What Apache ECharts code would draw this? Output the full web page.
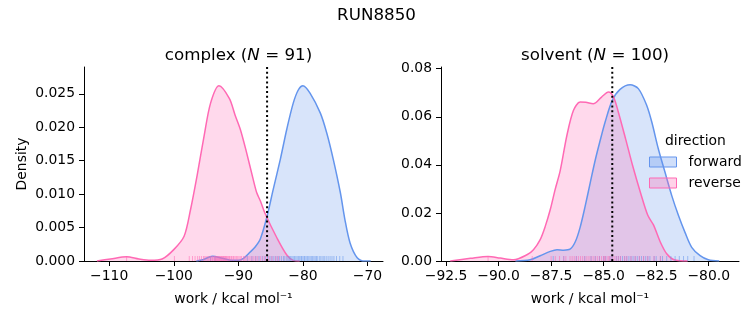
<!DOCTYPE html>
<html>
<head>
<meta charset="utf-8">
<script src="https://cdn.jsdelivr.net/npm/echarts@6/dist/echarts.min.js"></script>
<style>
  html, body { margin: 0; padding: 0; background: #fff; }
  #chart { width: 753px; height: 325px; }
</style>
</head>
<body>
<div id="chart"></div>
<script>
// ---- work distributions (kcal/mol) and their density estimates ----
const complexForwardX = [-96.5, -95.5, -94.0, -92.5, -91.0, -90.0, -89.2, -88.2, -87.4, -86.6, -85.6, -84.6, -83.5, -82.5, -81.5, -80.7, -80.0, -78.9, -77.3, -76.3, -75.3, -74.2, -73.5, -72.7, -71.6, -70.4, -69.5];
const complexForwardY = [0.0, 0.0002, 0.0007, 0.0004, 0.0001, 0.0001, 0.0004, 0.0013, 0.0021, 0.0033, 0.0065, 0.0107, 0.0152, 0.0197, 0.0236, 0.0256, 0.0262, 0.0251, 0.0221, 0.0191, 0.0152, 0.0102, 0.0062, 0.0027, 0.0005, 0.0, 0.0];

const complexReverseX = [-111.9, -109.8, -107.3, -105.4, -103.6, -101.8, -100.0, -98.4, -97.4, -96.4, -95.3, -94.3, -93.0, -91.4, -90.5, -89.7, -88.8, -87.7, -87.15, -86.6, -85.86, -84.0, -82.5, -81.5, -80.5];
const complexReverseY = [0.0, 0.0003, 0.00064, 0.0003, 0.0001, 0.0003, 0.0017, 0.0037, 0.0077, 0.0127, 0.0187, 0.0236, 0.0262, 0.0243, 0.0218, 0.0197, 0.0165, 0.0122, 0.0102, 0.0090, 0.0071, 0.0034, 0.0009, 0.0001, 0.0];

const solventForwardX = [-89.2, -88.5, -88.02, -87.54, -87.22, -86.9, -86.6, -86.35, -86.12, -85.88, -85.64, -85.4, -85.17, -84.93, -84.59, -84.22, -83.74, -83.35, -82.95, -82.71, -82.4, -82.08, -81.76, -81.44, -81.13, -80.81, -80.41, -80.02, -79.5];
const solventForwardY = [0.0, 0.0005, 0.0022, 0.0040, 0.0047, 0.0045, 0.0049, 0.0080, 0.0140, 0.0228, 0.0325, 0.0420, 0.0500, 0.0578, 0.0668, 0.0714, 0.0733, 0.0717, 0.0647, 0.0578, 0.0467, 0.0369, 0.0272, 0.0189, 0.0119, 0.0057, 0.0022, 0.0005, 0.0];

const solventReverseX = [-92.3, -91.34, -90.5, -89.92, -89.29, -88.65, -88.34, -88.02, -87.78, -87.54, -87.31, -87.07, -86.75, -86.44, -86.12, -85.85, -85.5, -85.1, -84.77, -84.53, -84.3, -83.95, -83.62, -83.25, -82.9, -82.63, -82.3, -82.0, -81.65, -81.0];
const solventReverseY = [0.0, 0.0011, 0.0019, 0.0012, 0.0005, 0.0026, 0.0047, 0.0089, 0.0144, 0.0214, 0.0297, 0.0375, 0.0522, 0.0626, 0.0661, 0.0660, 0.0654, 0.0682, 0.0703, 0.0682, 0.0619, 0.0506, 0.0396, 0.0285, 0.0190, 0.0150, 0.0078, 0.0030, 0.0005, 0.0];

// individual work values shown as rug ticks
const complexForwardRug = [-94.3, -93.6, -88.6, -87.9, -87.3, -86.8, -86.3, -85.9, -85.5, -85.1, -84.8, -84.5, -84.2, -83.9, -83.6, -83.3, -83.0, -82.8, -82.5, -82.3, -82.1, -81.9, -81.7, -81.5, -81.3, -81.1, -80.9, -80.7, -80.5, -80.3, -80.2, -80.0, -79.8, -79.7, -79.5, -79.3, -79.1, -78.9, -78.7, -78.5, -78.3, -78.1, -77.9, -77.7, -77.4, -77.2, -76.9, -76.7, -76.4, -76.1, -75.8, -75.5, -75.2, -74.8, -74.3, -73.8];
const complexReverseRug = [-107.3, -99.9, -97.6, -97.1, -96.7, -96.3, -96.0, -95.7, -95.4, -95.2, -95.0, -94.8, -94.6, -94.4, -94.3, -94.1, -94.0, -93.8, -93.7, -93.6, -93.5, -93.4, -93.3, -93.2, -93.1, -93.0, -92.9, -92.8, -92.7, -92.6, -92.5, -92.4, -92.3, -92.2, -92.1, -92.0, -91.9, -91.8, -91.7, -91.5, -91.4, -91.3, -91.1, -91.0, -90.8, -90.7, -90.5, -90.3, -90.1, -89.9, -89.7, -89.5, -89.2, -89.0, -88.8, -88.5, -88.2, -87.9, -87.6, -87.3, -87.0, -86.6, -86.2, -85.8, -85.3, -84.8, -84.2, -83.8];
const solventForwardRug = [-87.4, -86.9, -86.3, -85.9, -85.6, -85.4, -85.2, -85.0, -84.9, -84.7, -84.6, -84.4, -84.3, -84.2, -84.1, -84.0, -83.9, -83.8, -83.7, -83.6, -83.5, -83.4, -83.3, -83.2, -83.1, -83.0, -82.9, -82.8, -82.6, -82.5, -82.3, -82.2, -82.0, -81.8, -81.6, -81.4, -81.2, -81.0, -80.7];
const solventReverseRug = [-90.5, -88.4, -87.5, -87.3, -87.1, -86.9, -86.8, -86.6, -86.5, -86.4, -86.3, -86.2, -86.1, -86.0, -85.9, -85.8, -85.7, -85.6, -85.5, -85.4, -85.3, -85.2, -85.1, -85.0, -84.95, -84.9, -84.8, -84.75, -84.7, -84.6, -84.5, -84.4, -84.3, -84.2, -84.0, -83.9, -83.7, -83.5, -83.3, -83.1, -82.9, -82.6, -82.3];

// reference work marked with a dotted line in each panel
const complexMarker = -85.55;
const solventMarker = -84.59;

// axis ranges and tick positions
const complexXTicks = [-110, -100, -90, -80, -70];
const solventXTicks = [-92.5, -90.0, -87.5, -85.0, -82.5, -80.0];
const complexYTicks = [0, 0.005, 0.010, 0.015, 0.020, 0.025];
const solventYTicks = [0, 0.02, 0.04, 0.06, 0.08];
const complexXRange = [-113.9, -67.6];
const solventXRange = [-92.74, -78.56];
const complexYMax = 0.029;
const solventYMax = 0.0807;

const FONT = 'DejaVu Sans';
const BLUE = '#6495ED';
const PINK = '#FF69B4';
const MINUS = '\u2212';

const zip = (xs, ys) => xs.map((x, i) => [x, ys[i]]);
const signed = (s) => s.replace('-', MINUS);

function kdeSeries(name, xs, ys, color, idx) {
  return {
    name: name, type: 'line', xAxisIndex: idx, yAxisIndex: idx,
    data: zip(xs, ys), smooth: 0.3, symbol: 'none',
    lineStyle: { color: color, width: 1.5 },
    itemStyle: { color: color },
    areaStyle: { color: color, opacity: 0.25 },
    z: 2, silent: true
  };
}
function rugSeries(name, values, color, idx) {
  return {
    name: name, type: 'scatter', xAxisIndex: idx, yAxisIndex: idx,
    data: values.map(v => [v, 0]),
    symbol: 'rect', symbolSize: [1, 5], symbolOffset: [0, -2.5],
    itemStyle: { color: color, opacity: 0.55 },
    z: 4, silent: true
  };
}
function markerSeries(x, ymax, idx) {
  return {
    name: 'marker' + idx, type: 'line', xAxisIndex: idx, yAxisIndex: idx,
    data: [[x, 0], [x, ymax]], symbol: 'none',
    lineStyle: { color: '#000', width: 2, type: [2, 2.8] },
    z: 5, silent: true
  };
}
function xAxis(idx, range, ticks, fmt) {
  return {
    type: 'value', gridIndex: idx, min: range[0], max: range[1],
    name: 'work / kcal mol\u207B\u00B9', nameLocation: 'middle', nameGap: 31,
    nameTextStyle: { fontFamily: FONT, fontSize: 13.9, color: '#000' },
    axisLine: { show: true, lineStyle: { color: '#000', width: 1 } },
    axisTick: { show: true, length: 5, lineStyle: { color: '#000', width: 1 }, customValues: ticks },
    axisLabel: { customValues: ticks, formatter: fmt, fontFamily: FONT, fontSize: 13.9, color: '#000', margin: 8 },
    splitLine: { show: false }
  };
}
function yAxis(idx, max, ticks, digits, name) {
  return {
    type: 'value', gridIndex: idx, min: 0, max: max,
    name: name, nameLocation: 'middle', nameGap: 55,
    nameTextStyle: { fontFamily: FONT, fontSize: 13.9, color: '#000' },
    axisLine: { show: true, lineStyle: { color: '#000', width: 1 } },
    axisTick: { show: true, length: 5, lineStyle: { color: '#000', width: 1 }, customValues: ticks },
    axisLabel: { customValues: ticks, formatter: v => v.toFixed(digits), fontFamily: FONT, fontSize: 13.9, color: '#000', margin: 9 },
    splitLine: { show: false }
  };
}

const chart = echarts.init(document.getElementById('chart'), null, { renderer: 'canvas' });
chart.setOption({
  animation: false,
  backgroundColor: '#fff',
  title: [
    { text: 'RUN8850', left: 'center', top: 2,
      textStyle: { fontFamily: FONT, fontSize: 16.7, fontWeight: 'normal', color: '#000' } },
    { text: 'complex ({i|N} = 91)', left: 233.5, textAlign: 'center', top: 42,
      textStyle: { fontFamily: FONT, fontSize: 16.7, fontWeight: 'normal', color: '#000',
        rich: { i: { fontFamily: FONT, fontSize: 16.7, fontStyle: 'italic', color: '#000' } } } },
    { text: 'solvent ({i|N} = 100)', left: 590, textAlign: 'center', top: 42,
      textStyle: { fontFamily: FONT, fontSize: 16.7, fontWeight: 'normal', color: '#000',
        rich: { i: { fontFamily: FONT, fontSize: 16.7, fontStyle: 'italic', color: '#000' } } } }
  ],
  grid: [
    { left: 84, top: 67, width: 299, height: 194 },
    { left: 441, top: 67, width: 298, height: 194 }
  ],
  xAxis: [
    xAxis(0, complexXRange, complexXTicks, v => signed(String(v))),
    xAxis(1, solventXRange, solventXTicks, v => signed(v.toFixed(1)))
  ],
  yAxis: [
    yAxis(0, complexYMax, complexYTicks, 3, 'Density'),
    yAxis(1, solventYMax, solventYTicks, 2, '')
  ],
  legend: {
    orient: 'vertical', left: 649, top: 155, itemWidth: 27, itemHeight: 10, itemGap: 7,
    padding: 0, selectedMode: false,
    textStyle: { fontFamily: FONT, fontSize: 13.9, color: '#000', padding: [0, 0, 0, 7] },
    data: [
      { name: 'forward', icon: 'rect', itemStyle: { color: 'rgba(100,149,237,0.3)', borderColor: BLUE, borderWidth: 1 } },
      { name: 'reverse', icon: 'rect', itemStyle: { color: 'rgba(255,105,180,0.3)', borderColor: PINK, borderWidth: 1 } }
    ]
  },
  graphic: [
    { type: 'text', left: 665, top: 134, style: { text: 'direction', fontFamily: FONT, fontSize: 13.9, fill: '#000' } }
  ],
  series: [
    kdeSeries('forward', complexForwardX, complexForwardY, BLUE, 0),
    kdeSeries('reverse', complexReverseX, complexReverseY, PINK, 0),
    rugSeries('forward rug c', complexForwardRug, BLUE, 0),
    rugSeries('reverse rug c', complexReverseRug, PINK, 0),
    markerSeries(complexMarker, complexYMax, 0),
    kdeSeries('forward', solventForwardX, solventForwardY, BLUE, 1),
    kdeSeries('reverse', solventReverseX, solventReverseY, PINK, 1),
    rugSeries('forward rug s', solventForwardRug, BLUE, 1),
    rugSeries('reverse rug s', solventReverseRug, PINK, 1),
    markerSeries(solventMarker, solventYMax, 1)
  ]
});
</script>
</body>
</html>
